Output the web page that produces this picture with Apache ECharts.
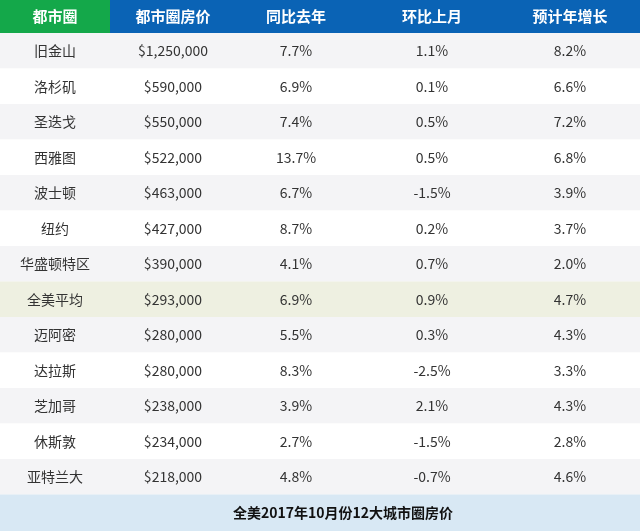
<!DOCTYPE html>
<html><head><meta charset="utf-8">
<script src="https://cdn.jsdelivr.net/npm/echarts@6/dist/echarts.min.js"></script>
<style>html,body{margin:0;padding:0;background:#fff}#main{width:640px;height:531px}</style>
</head><body><div id="main"></div>
<script>
let headers = ['都市圈', '都市圈房价', '同比去年', '环比上月', '预计年增长'];
let cities = ['旧金山', '洛杉矶', '圣迭戈', '西雅图', '波士顿', '纽约', '华盛顿特区', '全美平均', '迈阿密', '达拉斯', '芝加哥', '休斯敦', '亚特兰大'];
let prices = ['$1,250,000', '$590,000', '$550,000', '$522,000', '$463,000', '$427,000', '$390,000', '$293,000', '$280,000', '$280,000', '$238,000', '$234,000', '$218,000'];
let yoy = ['7.7%', '6.9%', '7.4%', '13.7%', '6.7%', '8.7%', '4.1%', '6.9%', '5.5%', '8.3%', '3.9%', '2.7%', '4.8%'];
let mom = ['1.1%', '0.1%', '0.5%', '0.5%', '-1.5%', '0.2%', '0.7%', '0.9%', '0.3%', '-2.5%', '2.1%', '-1.5%', '-0.7%'];
let forecast = ['8.2%', '6.6%', '7.2%', '6.8%', '3.9%', '3.7%', '2.0%', '4.7%', '4.3%', '3.3%', '4.3%', '2.8%', '4.6%'];
let footer = '全美2017年10月份12大城市圈房价';

let chart = echarts.init(document.getElementById('main'));
let colX = [55, 173, 296, 432, 570];
let headH = 33, rowH = 35.5;
let font = '"Microsoft YaHei","Noto Sans CJK SC",sans-serif';
let els = [];

//表头
els.push({type: 'rect', shape: {x: 0, y: 0, width: 640, height: headH}, style: {fill: '#0a63b5'}});
els.push({type: 'rect', shape: {x: 0, y: 0, width: 110, height: headH}, style: {fill: '#14a84a'}});
headers.forEach(function(h, i) {
	els.push({type: 'text', x: colX[i], y: headH / 2, style: {text: h, fill: '#fff', font: 'bold 15px ' + font, align: 'center', verticalAlign: 'middle'}});
});

//数据行
cities.forEach(function(c, r) {
	let y = headH + r * rowH;
	let bg = r === 7 ? '#eef0e1' : (r % 2 === 0 ? '#f4f4f6' : '#ffffff');
	els.push({type: 'rect', shape: {x: 0, y: y, width: 640, height: rowH}, style: {fill: bg}});
	[c, prices[r], yoy[r], mom[r], forecast[r]].forEach(function(t, i) {
		els.push({type: 'text', x: colX[i], y: y + rowH / 2, style: {text: t, fill: '#333', font: '14px ' + font, align: 'center', verticalAlign: 'middle'}});
	});
});

//底部标题
let fy = headH + cities.length * rowH;
els.push({type: 'rect', shape: {x: 0, y: fy, width: 640, height: 531 - fy}, style: {fill: '#d8e8f4'}});
els.push({type: 'text', x: 343, y: fy + (531 - fy) / 2, style: {text: footer, fill: '#111', font: 'bold 14px ' + font, align: 'center', verticalAlign: 'middle'}});

chart.setOption({animation: false, graphic: {elements: els}});
</script></body></html>
